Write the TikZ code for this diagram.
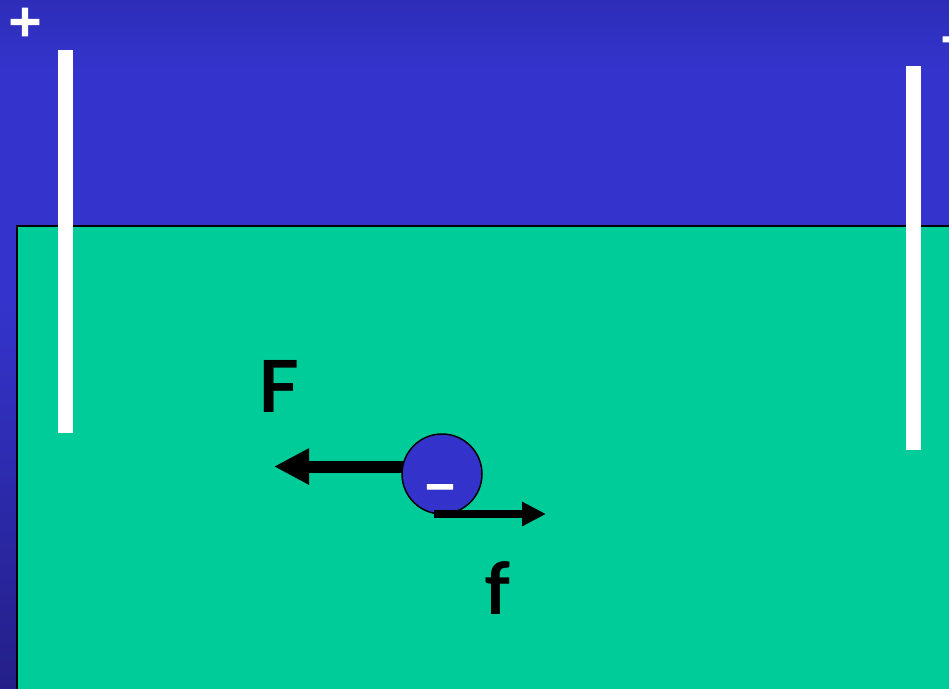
\documentclass[tikz,border=0pt]{standalone}
\usepackage{fontspec}
\setmainfont{Lato}
\newfontfamily\signfont{DejaVu Sans Bold}[FakeBold=2.5]
\usetikzlibrary{arrows.meta}
\definecolor{bgtop}{HTML}{2D2DB8}
\definecolor{bgmid}{HTML}{3434CC}
\definecolor{bgbot}{HTML}{241F88}
\definecolor{bath}{HTML}{00CC99}
\definecolor{ionblue}{HTML}{3333CC}
\tikzset{
  electrode/.style={fill=white, draw=none},
  sign/.style={text=white, inner sep=0pt, font=\signfont\fontsize{44}{44}\selectfont},
  label/.style={text=black, inner sep=0pt, anchor=base, font=\bfseries\fontsize{72}{72}\selectfont},
  bigforce/.style={line width=12pt, -{Triangle[length=35pt,width=34pt]}},
  smallforce/.style={line width=8pt, -{Triangle[length=24pt,width=23pt]}},
}
\begin{document}
\begin{tikzpicture}[x=1pt,y=-1pt]
\useasboundingbox (0,0) rectangle (949,688);
\fill[bgmid] (0,0) rectangle (949,688);
\shade[top color=bgtop, bottom color=bgmid] (0,0) rectangle (949,70);
\shade[top color=bgmid, bottom color=bgbot] (0,300) rectangle (949,688);
% bath
\fill[bath] (17,226) rectangle (960,700);
\draw[black, line width=1.5pt] (17,700) -- (17,226) -- (960,226);
% electrodes
\fill[electrode] (58,50) rectangle (73,433);
\fill[electrode] (906,66) rectangle (921,450);
% signs
\node[sign] (plus) at (25,22) {+};
\node[sign, font=\signfont\fontsize{44}{44}\selectfont] (minus) at (957,45) {−};
% ion
\coordinate (Fstart) at (420,466.5);
\coordinate (Ftip) at (274,466.5);
\draw[bigforce] (Fstart) -- (Ftip);
\node[circle, draw=black, line width=1.5pt, fill=ionblue, minimum size=80pt, inner sep=0pt] (ion) at (442,474) {};
\node[sign, font=\signfont\fontsize{40}{40}\selectfont] (ioncharge) at (440,492) {−};
\coordinate (fstart) at (434,514);
\coordinate (ftip) at (546,514);
\draw[smallforce] (fstart) -- (ftip);
% labels
\node[label] (Flabel) at (279,412) {F};
\node[label] (flabel) at (497,614) {f};
\end{tikzpicture}
\end{document}
